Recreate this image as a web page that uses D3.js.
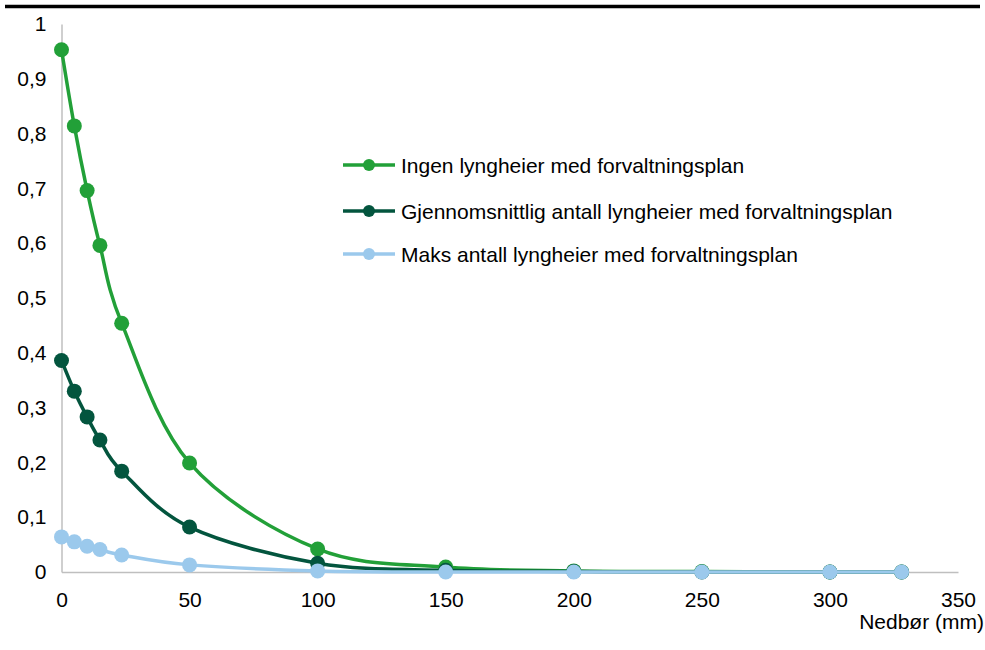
<!DOCTYPE html>
<html>
<head>
<meta charset="utf-8">
<script src="https://cdn.jsdelivr.net/npm/d3@7"></script>
<style>
  html, body { margin: 0; padding: 0; background: #fff; }
  svg { display: block; font-family: "Liberation Sans", Arial, sans-serif; }
</style>
</head>
<body>
<svg id="chart" width="985" height="650"></svg>
<script>
// Precipitation (mm) at which each probability was evaluated
const precipitation = [0, 5, 10, 15, 23.5, 50, 100, 150, 200, 250, 300, 328];

// Probability series
const seriesNames = [
  "Ingen lyngheier med forvaltningsplan",
  "Gjennomsnittlig antall lyngheier med forvaltningsplan",
  "Maks antall lyngheier med forvaltningsplan"
];
const noneValues = [0.953, 0.814, 0.696, 0.596, 0.454, 0.199, 0.042, 0.009, 0.002, 0.001, 0.0, 0.0];
const avgValues  = [0.386, 0.330, 0.283, 0.241, 0.184, 0.082, 0.016, 0.003, 0.001, 0.0, 0.0, 0.0];
const maxValues  = [0.064, 0.055, 0.047, 0.041, 0.031, 0.013, 0.002, 0.0, 0.0, 0.0, 0.0, 0.0];

const xTicks = [0, 50, 100, 150, 200, 250, 300, 350];
const yTicks = [0, 0.1, 0.2, 0.3, 0.4, 0.5, 0.6, 0.7, 0.8, 0.9, 1];
const xTitle = "Nedbør (mm)";

const colors = ["#22a038", "#03553e", "#9bc9ec"];

const svg = d3.select("#chart");
const margin = { left: 61.5, right: 27, top: 24, bottom: 78 };
const W = 985, H = 650;
const FS = 21;

const x = d3.scaleLinear().domain([0, 350]).range([margin.left, W - margin.right]);
const y = d3.scaleLinear().domain([0, 1]).range([H - margin.bottom, margin.top]);

// Heavy rule across the top
svg.append("line")
  .attr("x1", 5).attr("x2", 980)
  .attr("y1", 6.5).attr("y2", 6.5)
  .attr("stroke", "#000").attr("stroke-width", 3.5);

// Axes (lines only, no tick marks)
const fmt = d => d === 0 ? "0" : d === 1 ? "1" : d3.format(".1f")(d).replace(".", ",");

const xAxis = svg.append("g")
  .attr("transform", `translate(0,${y(0)})`)
  .call(d3.axisBottom(x).tickValues(xTicks).tickSize(0).tickPadding(20).tickFormat(d3.format("d")));
xAxis.select(".domain").attr("stroke", "#bfbfbf").attr("stroke-width", 1.5);
xAxis.selectAll("text").attr("font-size", FS).attr("fill", "#000")
  .attr("font-family", "Liberation Sans, Arial, sans-serif");

const yAxis = svg.append("g")
  .attr("transform", `translate(${x(0)},0)`)
  .call(d3.axisLeft(y).tickValues(yTicks).tickSize(0).tickPadding(15).tickFormat(fmt));
yAxis.select(".domain").attr("stroke", "#bfbfbf").attr("stroke-width", 1.5);
yAxis.selectAll("text").attr("font-size", FS).attr("fill", "#000")
  .attr("font-family", "Liberation Sans, Arial, sans-serif");

svg.append("text")
  .attr("x", 985 - 1).attr("y", 629)
  .attr("text-anchor", "end")
  .attr("font-size", FS)
  .text(xTitle);

// Series lines and markers
const allSeries = [noneValues, avgValues, maxValues];
const line = d3.line()
  .x((d, i) => x(precipitation[i]))
  .y(d => y(d))
  .curve(d3.curveCardinal.tension(0));

allSeries.forEach((vals, s) => {
  const g = svg.append("g");
  g.append("path")
    .datum(vals)
    .attr("d", line)
    .attr("fill", "none")
    .attr("stroke", colors[s])
    .attr("stroke-width", 3.5);
  g.selectAll("circle")
    .data(vals)
    .join("circle")
    .attr("cx", (d, i) => x(precipitation[i]))
    .attr("cy", d => y(d))
    .attr("r", 7.5)
    .attr("fill", colors[s]);
});

// Legend
const legendY = [165, 211, 254];
seriesNames.forEach((name, s) => {
  const g = svg.append("g").attr("transform", `translate(343,${legendY[s]})`);
  g.append("line").attr("x1", 0).attr("x2", 52).attr("y1", 0).attr("y2", 0)
    .attr("stroke", colors[s]).attr("stroke-width", 3.5);
  g.append("circle").attr("cx", 26).attr("cy", 0).attr("r", 6).attr("fill", colors[s]);
  g.append("text").attr("x", 58).attr("y", 7.5).attr("font-size", FS).attr("fill", "#000").text(name);
});
</script>
</body>
</html>
